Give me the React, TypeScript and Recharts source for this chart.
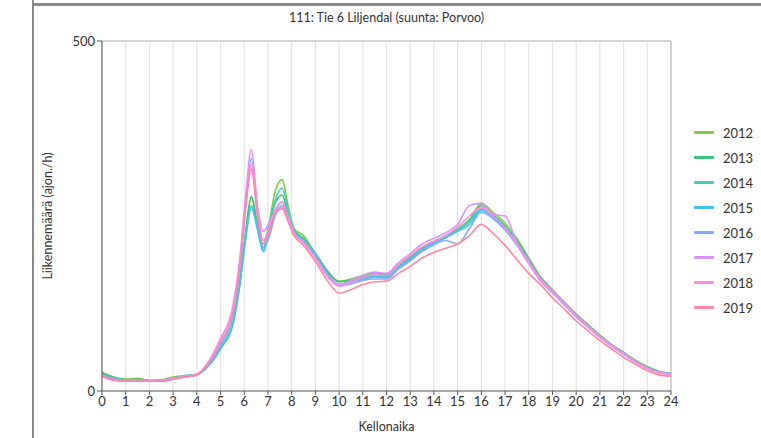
import React from "react";
import { LineChart, Line, XAxis, YAxis, CartesianGrid, ReferenceLine, Label } from "recharts";

const title = "111: Tie 6 Liljendal (suunta: Porvoo)";
const yTitle = "Liikennemäärä (ajon./h)";
const xTitle = "Kellonaika";

const hours = [0, 0.5, 1, 1.5, 2, 2.5, 3, 3.5, 4, 4.5, 5, 5.5, 5.8, 6.05, 6.3, 6.55, 6.8, 7.05, 7.3, 7.6, 7.85, 8.1, 8.5, 9, 9.5, 10, 10.5, 11, 11.5, 12, 12.5, 13, 13.5, 14, 14.5, 15, 15.5, 16, 16.5, 17, 17.5, 18, 18.5, 19, 19.5, 20, 20.5, 21, 21.5, 22, 22.5, 23, 23.5, 24];

const years = ["2012", "2013", "2014", "2015", "2016", "2017", "2018", "2019"];
const colors = ["#80d046", "#3cc47c", "#45cdc4", "#45c2f0", "#88adff", "#da92ff", "#ff8ce0", "#ff88a4"];

const y2012 = [27, 20, 17, 18, 15, 16, 20, 22, 24, 36, 60, 92, 150, 222, 276, 240, 210, 240, 285, 302, 265, 232, 222, 195, 170, 157, 160, 165, 168, 167, 180, 192, 205, 214, 222, 232, 245, 268, 255, 240, 218, 190, 163, 145, 127, 110, 95, 80, 66, 55, 44, 35, 28, 25];
const y2013 = [26, 19, 16, 17, 15, 15, 19, 21, 24, 37, 62, 95, 155, 225, 278, 238, 205, 232, 268, 280, 252, 230, 218, 197, 172, 156, 158, 163, 166, 166, 178, 190, 203, 213, 221, 230, 243, 265, 252, 236, 215, 188, 162, 143, 126, 109, 94, 79, 66, 55, 43, 34, 28, 25];
const y2014 = [24, 18, 16, 16, 15, 15, 18, 22, 24, 38, 63, 96, 152, 218, 265, 235, 202, 238, 272, 290, 258, 228, 216, 196, 168, 152, 156, 161, 164, 163, 177, 189, 202, 212, 220, 230, 242, 260, 250, 234, 213, 186, 160, 142, 125, 108, 93, 78, 65, 54, 43, 33, 27, 24];
const y2015 = [24, 17, 15, 15, 14, 15, 17, 20, 23, 36, 62, 93, 148, 215, 262, 232, 199, 225, 255, 270, 250, 228, 214, 193, 167, 152, 155, 160, 163, 162, 176, 188, 201, 211, 219, 228, 238, 258, 248, 232, 210, 184, 158, 141, 124, 107, 92, 77, 64, 53, 42, 33, 27, 24];
const y2016 = [23, 17, 15, 15, 14, 14, 17, 20, 23, 38, 66, 105, 172, 260, 332, 260, 205, 220, 250, 265, 248, 226, 213, 192, 166, 150, 153, 158, 160, 160, 174, 186, 199, 209, 215, 210, 232, 255, 246, 230, 208, 182, 157, 140, 123, 106, 91, 77, 64, 52, 41, 32, 26, 24];
const y2017 = [22, 16, 15, 15, 14, 15, 18, 21, 24, 42, 75, 118, 185, 275, 345, 268, 228, 240, 255, 262, 245, 225, 212, 190, 165, 152, 158, 165, 170, 168, 183, 196, 210, 218, 226, 238, 265, 268, 252, 250, 212, 186, 160, 143, 126, 108, 93, 78, 65, 54, 42, 33, 27, 24];
const y2018 = [22, 16, 14, 15, 14, 14, 18, 21, 24, 42, 74, 115, 180, 265, 324, 258, 215, 232, 258, 270, 248, 226, 212, 190, 164, 150, 155, 162, 166, 165, 180, 193, 206, 214, 222, 234, 250, 262, 250, 233, 210, 183, 158, 141, 124, 107, 92, 77, 64, 53, 42, 32, 26, 23];
const y2019 = [21, 15, 14, 14, 14, 14, 17, 20, 23, 40, 70, 108, 172, 258, 317, 252, 210, 228, 252, 260, 242, 222, 208, 185, 158, 140, 145, 152, 156, 157, 168, 178, 190, 198, 204, 210, 222, 238, 225, 208, 188, 168, 152, 133, 117, 100, 86, 72, 60, 48, 38, 29, 23, 21];

const seriesValues = [y2012, y2013, y2014, y2015, y2016, y2017, y2018, y2019];
const xTicks = [0, 1, 2, 3, 4, 5, 6, 7, 8, 9, 10, 11, 12, 13, 14, 15, 16, 17, 18, 19, 20, 21, 22, 23, 24];
const yTicks = [0, 500];

const data = hours.map((h, i) => {
  const row: Record<string, number> = { h };
  years.forEach((y, k) => {
    row[y] = seriesValues[k][i];
  });
  return row;
});

const FONT = "Lato, 'Open Sans', sans-serif";

export default function App() {
  return (
    <div style={{ position: "absolute", left: 0, top: 0, width: 761, height: 438, background: "#fff", fontFamily: FONT, overflow: "hidden" }}>
      <div style={{ position: "absolute", left: 32, top: 0, width: 2, height: 438, background: "#8a8a8a" }} />
      <div style={{ position: "absolute", left: 32, top: 3, width: 729, height: 3, background: "#8a8a8a" }} />
      <div style={{ position: "absolute", left: 102, width: 569, top: 10, textAlign: "center", fontSize: 12.5, color: "#333" }}>{title}</div>
      <div style={{ position: "absolute", left: 0, top: 0 }}>
        <LineChart width={761} height={438} data={data} margin={{ top: 41, right: 90, bottom: 0, left: 0 }}>
          <CartesianGrid stroke="#e4e4e4" strokeWidth={1.2} horizontal={false} verticalValues={xTicks} />
          <ReferenceLine y={500} stroke="#c8c8c8" strokeWidth={1.5} />
          <ReferenceLine x={24} stroke="#c8c8c8" strokeWidth={1.5} />
          <XAxis
            dataKey="h"
            type="number"
            domain={[0, 24]}
            ticks={xTicks}
            interval={0}
            height={47}
            stroke="#555"
            tickSize={4}
            tick={{ fill: "#333", fontSize: 13, fontFamily: FONT }}
          >
            <Label value={xTitle} position="insideBottom" offset={7} style={{ fill: "#333", fontSize: 12.5, fontFamily: FONT }} />
          </XAxis>
          <YAxis
            type="number"
            domain={[0, 500]}
            ticks={yTicks}
            width={102}
            stroke="#555"
            tickSize={5}
            tick={{ fill: "#333", fontSize: 13, fontFamily: FONT }}
          >
            <Label
              content={() => (
                <text x={52} y={216} transform="rotate(-90 52 216)" textAnchor="middle" style={{ fill: "#333", fontSize: 12.5, fontFamily: FONT }}>
                  {yTitle}
                </text>
              )}
            />
          </YAxis>
          {years.map((y, k) => (
            <Line key={y} type="monotone" dataKey={y} stroke={colors[k]} strokeWidth={1.6} dot={false} isAnimationActive={false} />
          ))}
        </LineChart>
      </div>
      {years.map((y, k) => (
        <div key={y} style={{ position: "absolute", left: 694, top: 124 + k * 25, height: 17, display: "flex", alignItems: "center" }}>
          <div style={{ width: 20, height: 2.5, background: colors[k], borderRadius: 1 }} />
          <span style={{ marginLeft: 9, fontSize: 13, color: "#333" }}>{y}</span>
        </div>
      ))}
    </div>
  );
}
